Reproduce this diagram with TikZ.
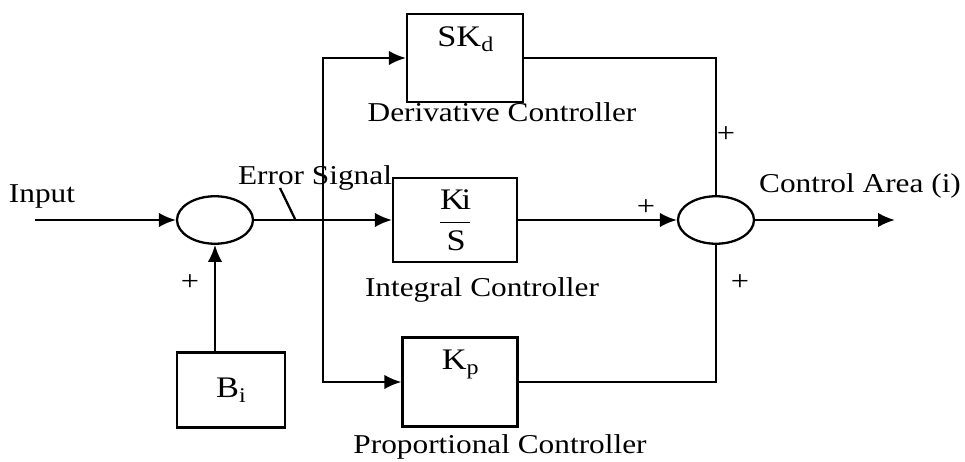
\documentclass[tikz,border=0pt]{standalone}
\usepackage{fontspec}
\setmainfont{Liberation Serif}[FakeStretch=1.15]
\usetikzlibrary{arrows.meta,shapes.geometric}

\tikzset{
  block/.style={draw,line width=1.3pt,rectangle,inner sep=2pt},
  summer/.style={draw,line width=1.3pt,ellipse,minimum width=1.52cm,minimum height=0.95cm},
  lbl/.style={font=\fontsize{15.5}{18}\selectfont},
  sign/.style={font=\fontsize{16}{18}\selectfont}
}

\begin{document}
\begin{tikzpicture}[x=0.02cm,y=-0.02cm,line width=1.3pt,>={Latex[length=3.4mm,width=2.9mm]},lbl]
    \useasboundingbox (0,0) rectangle (965,462);

    % Summing points
    \node[summer] (sumA) at (215,220) {};
    \node[summer] (sumB) at (716,220) {};

    % Controller blocks
    \node[block,minimum width=2.32cm,minimum height=1.76cm,
          label={[below=4pt,font=\fontsize{17}{19}\selectfont]north:SK$_\mathrm{d}$}] (kd) at (465,58) {};
    \node[block,minimum width=2.48cm,minimum height=1.68cm,font=\fontsize{17}{19}\selectfont] (ki) at (455,220)
          {$\displaystyle\frac{\mathrm{Ki}}{\mathrm{S}}$};
    \node[block,minimum width=2.3cm,minimum height=1.78cm,
          label={[below=4pt,font=\fontsize{17}{19}\selectfont]north:K$_\mathrm{p}$}] (kp) at (460,382) {};
    \node[block,minimum width=2.16cm,minimum height=1.5cm,font=\fontsize{17}{19}\selectfont] (bi) at (231,390) {B$_\mathrm{i}$};

    % Labels
    \node (input) at (42,196) {Input};
    \node (err) at (315,178) {Error Signal};
    \node (area) at (860,186) {Control Area (i)};
    \node (dlbl) at (502,112) {Derivative Controller};
    \node (ilbl) at (482,290) {Integral Controller};
    \node (plbl) at (500,447) {Proportional Controller};

    % Signs
    \node[sign] at (190,283) {+};
    \node[sign] at (726,135) {+};
    \node[sign] at (646,208) {+};
    \node[sign] at (740,283) {+};

    % Signal lines
    \coordinate (in) at (35,220);
    \coordinate (br) at (323,220);
    \coordinate (out) at (895,220);
    \draw[->] (in) -- (sumA.west);
    \draw[->] (sumA.east) -- (ki.west);
    \draw[->] (br) |- (kd.west);
    \draw[->] (br) |- (kp.west);
    \draw[->] (sumA.south |- bi.north) -- (sumA.south);
    \draw (kd.east) -| (sumB.north);
    \draw (kp.east) -| (sumB.south);
    \draw[->] (ki.east) -- (sumB.west);
    \draw[->] (sumB.east) -- (out);

    % Error signal pointer
    \draw (280,188) -- (295,219);
\end{tikzpicture}
\end{document}
